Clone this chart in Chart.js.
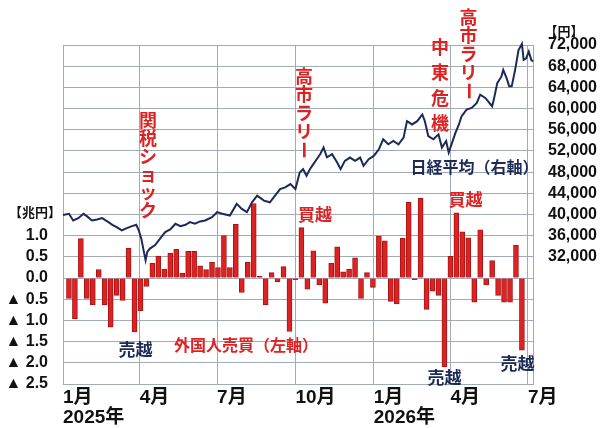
<!DOCTYPE html>
<html lang="ja">
<head>
<meta charset="utf-8">
<title>外国人売買と日経平均</title>
<script src="https://cdn.jsdelivr.net/npm/chart.js@4/dist/chart.umd.min.js"></script>
<style>
  html, body { margin: 0; padding: 0; background: #fff; }
  #wrap { width: 600px; height: 428px; }
</style>
</head>
<body>
<div id="wrap"><canvas id="chart" width="600" height="428"></canvas></div>
<script>
// 外国人の週次売買（兆円、マイナスは売り越し）
const flowWeeks = [
  '2025-01-08','2025-01-15','2025-01-22','2025-01-29',
  '2025-02-05','2025-02-12','2025-02-19','2025-02-26',
  '2025-03-05','2025-03-12','2025-03-19','2025-03-26',
  '2025-04-02','2025-04-09','2025-04-16','2025-04-23','2025-04-30',
  '2025-05-07','2025-05-14','2025-05-21','2025-05-28',
  '2025-06-04','2025-06-11','2025-06-18','2025-06-25',
  '2025-07-02','2025-07-09','2025-07-16','2025-07-23','2025-07-30',
  '2025-08-06','2025-08-13','2025-08-20','2025-08-27',
  '2025-09-03','2025-09-10','2025-09-17','2025-09-24',
  '2025-10-01','2025-10-08','2025-10-15','2025-10-22','2025-10-29',
  '2025-11-05','2025-11-12','2025-11-19','2025-11-26',
  '2025-12-03','2025-12-10','2025-12-17','2025-12-24','2025-12-31',
  '2026-01-07','2026-01-14','2026-01-21','2026-01-28',
  '2026-02-04','2026-02-11','2026-02-18','2026-02-25',
  '2026-03-04','2026-03-11','2026-03-18','2026-03-25',
  '2026-04-01','2026-04-08','2026-04-15','2026-04-22','2026-04-29',
  '2026-05-06','2026-05-13','2026-05-20','2026-05-27',
  '2026-06-03','2026-06-10','2026-06-17','2026-06-24'
];
const flowValues = [
  -0.48, -0.96, 0.93, -0.48,
  -0.63, 0.20, -0.63, -1.16,
  -0.41, -0.53, 0.70, -1.27,
  -0.77, -0.20, 0.35, 0.52, 0.21,
  0.59, 0.68, 0.12, 0.63,
  0.63, 0.29, 0.20, 0.37,
  0.25, 1.00, 0.25, 1.27, -0.34,
  0.37, 1.76, 0.04, -0.63,
  0.13, -0.09, 0.27, -1.26,
  -0.04, 1.19, -0.26, 0.64, -0.16,
  -0.59, 0.35, 0.74, 0.15,
  0.21, 0.48, -0.48, 0.13, -0.22,
  0.99, 0.88, -0.55, -0.61,
  0.94, 1.79, -0.04, 1.88,
  -0.74, -0.31, -0.41, -2.09,
  0.51, 1.54, 1.09, 0.95, -0.57,
  1.14, -0.16, 0.41, -0.41,
  -0.57, -0.57, 0.77, -1.70
];

// 日経平均（円）
const nikkeiDates = [
  '2025-01-01','2025-01-08','2025-01-13','2025-01-19','2025-01-25','2025-01-29',
  '2025-02-04','2025-02-10','2025-02-16','2025-02-22','2025-02-28',
  '2025-03-05','2025-03-11','2025-03-17','2025-03-23','2025-03-28','2025-03-31',
  '2025-04-03','2025-04-06','2025-04-08','2025-04-10','2025-04-13','2025-04-19','2025-04-25',
  '2025-05-01','2025-05-07','2025-05-13','2025-05-19','2025-05-25','2025-05-30',
  '2025-06-05','2025-06-11','2025-06-17','2025-06-25',
  '2025-07-01','2025-07-07','2025-07-16','2025-07-24','2025-07-30',
  '2025-08-05','2025-08-11','2025-08-17','2025-08-25',
  '2025-09-01','2025-09-07','2025-09-13','2025-09-19','2025-09-25',
  '2025-10-01','2025-10-06','2025-10-10','2025-10-14','2025-10-18','2025-10-22','2025-10-26','2025-10-30',
  '2025-11-03','2025-11-07','2025-11-13','2025-11-19','2025-11-23','2025-11-28',
  '2025-12-04','2025-12-10','2025-12-16','2025-12-20','2025-12-26',
  '2026-01-01','2026-01-07','2026-01-12','2026-01-18','2026-01-24','2026-01-30',
  '2026-02-05','2026-02-09','2026-02-15','2026-02-21','2026-02-27',
  '2026-03-02','2026-03-06','2026-03-12','2026-03-18','2026-03-22','2026-03-27','2026-03-30',
  '2026-04-03','2026-04-07','2026-04-11','2026-04-14','2026-04-20','2026-04-26',
  '2026-05-02','2026-05-06','2026-05-12','2026-05-20','2026-05-22','2026-05-26','2026-05-31',
  '2026-06-02','2026-06-06','2026-06-09','2026-06-12','2026-06-16','2026-06-20','2026-06-24','2026-06-26','2026-06-29',
  '2026-07-02','2026-07-05','2026-07-07'
];
const nikkeiValues = [
  39900, 40130, 38870, 39310, 40130, 39690,
  38870, 39060, 39310, 38690, 38060,
  37630, 37000, 37440, 37810, 38060, 37000,
  35440, 32940, 31370, 32940, 33560, 34190, 35440,
  36690, 37190, 38250, 37810, 38060, 38560,
  38250, 38690, 38870, 39500,
  40440, 40130, 39810, 42000, 41060,
  40440, 42310, 43560, 42620,
  42310, 43560, 44810, 45130, 45750,
  44810, 47940, 48560, 47310, 48560, 49500, 50440, 51380,
  52630, 50810, 51380, 49810, 48560, 50130,
  50750, 50130, 50750, 49190, 50440,
  51060, 52310, 54190, 53250, 53870, 53250,
  54500, 57620, 57000, 57620, 58880,
  57620, 54810, 54190, 55130, 52630, 53880, 51690,
  53560, 55440, 57000, 58500, 59810, 60130,
  61060, 62620, 62000, 60440, 61690, 64810, 66060,
  67310, 65750, 64190, 64190, 67310, 71060, 72200, 69190, 69500,
  70750, 69190, 68880
];

// 横軸の目盛り
const tickDates = ['2025-01-01', '2025-04-01', '2025-07-01', '2025-10-01', '2026-01-01', '2026-04-01', '2026-07-01'];
const tickLabels = [['1月', '2025年'], '4月', '7月', '10月', ['1月', '2026年'], '4月', '7月'];

const GRID = '#a2aab8';
const RED = '#dc2222';
const NAVY = '#1c2a58';
const NUM = '"Liberation Sans", "Noto Sans CJK JP", sans-serif';
const JP = '"Noto Sans CJK JP", sans-serif';

function dayOf(s) {
  const [y, m, d] = s.split('-').map(Number);
  return (Date.UTC(y, m - 1, d) - Date.UTC(2025, 0, 1)) / 86400000;
}

function withCommas(v) {
  return String(v).replace(/\B(?=(\d{3})+(?!\d))/g, ',');
}

// 縦書きの注記
function vertical(ctx, text, x, y, step) {
  ctx.font = 'bold 18px ' + JP;
  ctx.fillStyle = RED;
  [...text].forEach((ch, i) => {
    const cy = y + i * step;
    if (ch === 'ー') {
      ctx.save();
      ctx.translate(x, cy);
      ctx.rotate(Math.PI / 2);
      ctx.fillText(ch, 0, 0);
      ctx.restore();
    } else {
      ctx.fillText(ch, x, cy);
    }
  });
}

function label(ctx, text, x, y, font, color) {
  ctx.font = font;
  ctx.fillStyle = color;
  ctx.fillText(text, x, y);
}

const notes = {
  id: 'notes',
  afterDraw(chart) {
    const ctx = chart.ctx;
    ctx.save();
    ctx.textAlign = 'center';
    ctx.textBaseline = 'middle';

    vertical(ctx, '関税ショック', 148, 120, 18);
    vertical(ctx, '高市ラリー', 304, 76, 18.5);
    vertical(ctx, '中東危機', 440, 47, 25.5);
    vertical(ctx, '高市ラリー', 468.5, 17, 18.5);

    label(ctx, '日経平均（右軸）', 474.5, 167, 'bold 16px ' + JP, NAVY);
    label(ctx, '外国人売買（左軸）', 246, 345, 'bold 16px ' + JP, RED);

    const bold17 = 'bold 17px ' + JP;
    label(ctx, '買越', 315, 215, bold17, RED);
    label(ctx, '買越', 465.5, 200, bold17, RED);
    label(ctx, '売越', 135.5, 350, bold17, NAVY);
    label(ctx, '売越', 444.5, 378, bold17, NAVY);
    label(ctx, '売越', 517.5, 364, bold17, NAVY);

    label(ctx, '【兆円】', 35, 212, 'bold 13px ' + JP, '#111');
    label(ctx, '【円】', 564, 31, 'bold 13px ' + JP, '#111');
    ctx.restore();
  }
};

new Chart(document.getElementById('chart'), {
  data: {
    datasets: [
      {
        type: 'line',
        label: '日経平均',
        data: nikkeiDates.map((d, i) => ({ x: dayOf(d), y: nikkeiValues[i] })),
        yAxisID: 'y1',
        borderColor: NAVY,
        borderWidth: 2,
        pointRadius: 0,
        tension: 0,
        order: 0,
        clip: 4
      },
      {
        type: 'bar',
        label: '外国人売買',
        data: flowWeeks.map((d, i) => ({ x: dayOf(d), y: flowValues[i] })),
        yAxisID: 'y',
        backgroundColor: RED,
        borderColor: '#a81414',
        borderWidth: 1,
        barThickness: 5,
        order: 1
      }
    ]
  },
  options: {
    responsive: false,
    animation: false,
    layout: { padding: { top: 45 } },
    plugins: { legend: { display: false }, tooltip: { enabled: false } },
    scales: {
      x: {
        type: 'linear',
        min: 0,
        max: 552,
        offset: false,
        afterBuildTicks: s => { s.ticks = tickDates.map(d => ({ value: dayOf(d) })); },
        afterFit: s => { s.height = 44; },
        grid: { color: GRID, drawTicks: false, offset: false },
        border: { color: GRID },
        ticks: {
          autoSkip: false,
          maxRotation: 0,
          align: 'start',
          padding: 4,
          color: '#111',
          font: { family: NUM, size: 19, weight: 'bold', lineHeight: 1.05 },
          callback: (v, i) => tickLabels[i]
        }
      },
      y: {
        position: 'left',
        min: -2.5,
        max: 5.5,
        afterFit: s => { s.width = 63; },
        grid: { color: GRID, drawTicks: false },
        border: { color: GRID },
        ticks: {
          stepSize: 0.5,
          autoSkip: false,
          padding: 15,
          color: '#111',
          font: { family: NUM, size: 16, weight: 'bold' },
          callback: v => {
            if (v > 1.01) return '';
            if (v < -0.01) return '▲ ' + Math.abs(v).toFixed(1);
            return Math.abs(v).toFixed(1);
          }
        }
      },
      y1: {
        position: 'right',
        min: 8000,
        max: 72000,
        afterFit: s => { s.width = 67; },
        grid: { drawOnChartArea: false, drawTicks: false },
        border: { color: GRID },
        ticks: {
          stepSize: 4000,
          autoSkip: false,
          padding: 15,
          color: '#111',
          font: { family: NUM, size: 16, weight: 'bold' },
          callback: v => (v >= 32000 ? withCommas(v) : '')
        }
      }
    }
  },
  plugins: [notes]
});
</script>
</body>
</html>
